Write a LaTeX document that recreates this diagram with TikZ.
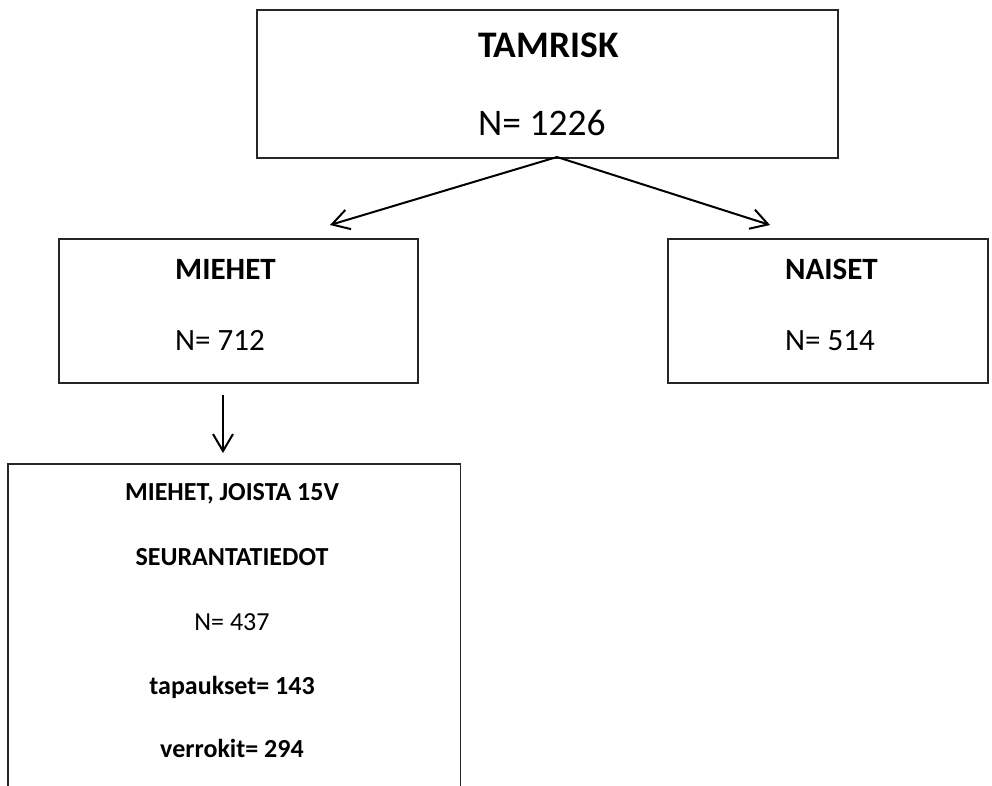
\documentclass[tikz,border=0pt]{standalone}
\usepackage{fontspec}
\setmainfont{Carlito}
\usetikzlibrary{arrows.meta}
\begin{document}
\begin{tikzpicture}[x=1pt,y=-1pt,
  box/.style={draw=black!85, line width=1.5pt, rectangle, inner sep=0pt, anchor=north west},
  big/.style={anchor=base west, inner sep=0pt, font=\fontsize{37.5}{40}\selectfont},
  bigb/.style={big, font=\bfseries\fontsize{37.5}{40}\selectfont},
  mid/.style={anchor=base west, inner sep=0pt, font=\fontsize{31}{34}\selectfont},
  midb/.style={mid, font=\bfseries\fontsize{31}{34}\selectfont},
  small/.style={anchor=base, inner sep=0pt, font=\fontsize{26}{30}\selectfont},
  smallb/.style={small, font=\bfseries\fontsize{26}{30}\selectfont},
  arr/.style={line width=2pt, -{Straight Barb[length=17pt,width=20pt,line width=2pt]}}]
\useasboundingbox (0,0) rectangle (992,785);
% boxes
\node[box, minimum width=581pt, minimum height=148pt] (top) at (256,9) {};
\node[box, minimum width=359pt, minimum height=144pt] (men) at (58,238) {};
\node[box, minimum width=320pt, minimum height=144pt] (women) at (667,238) {};
\node[inner sep=0pt, anchor=north west, minimum width=452pt, minimum height=330pt] (sub) at (8,464) {};
\draw[draw=black!85, line width=1.5pt] (sub.south west) -- (sub.north west) -- (sub.north east) -- (sub.south east);
% texts
\node[bigb] (t1) at (478,57) {TAMRISK};
\node[big] (t2) at (478,135) {N= 1226};
\node[midb] (m1) at (175,279) {MIEHET};
\node[mid] (m2) at (175,350) {N= 712};
\node[midb] (w1) at (785,279) {NAISET};
\node[mid] (w2) at (785,350) {N= 514};
\node[smallb] (s1) at (232,500) {MIEHET, JOISTA 15V};
\node[smallb] (s2) at (232,565) {SEURANTATIEDOT};
\node[small] (s3) at (232,630) {N= 437};
\node[smallb] (s4) at (232,694) {tapaukset= 143};
\node[smallb] (s5) at (232,757) {verrokit= 294};
% connectors
\coordinate (src) at (557,157);
\coordinate (lt) at (330,225);
\coordinate (rt) at (770,225);
\coordinate (dsrc) at (223,395);
\coordinate (dt) at (223,453);
\draw[arr] (src) -- (lt);
\draw[arr] (src) -- (rt);
\draw[arr] (dsrc) -- (dt);
\end{tikzpicture}
\end{document}
